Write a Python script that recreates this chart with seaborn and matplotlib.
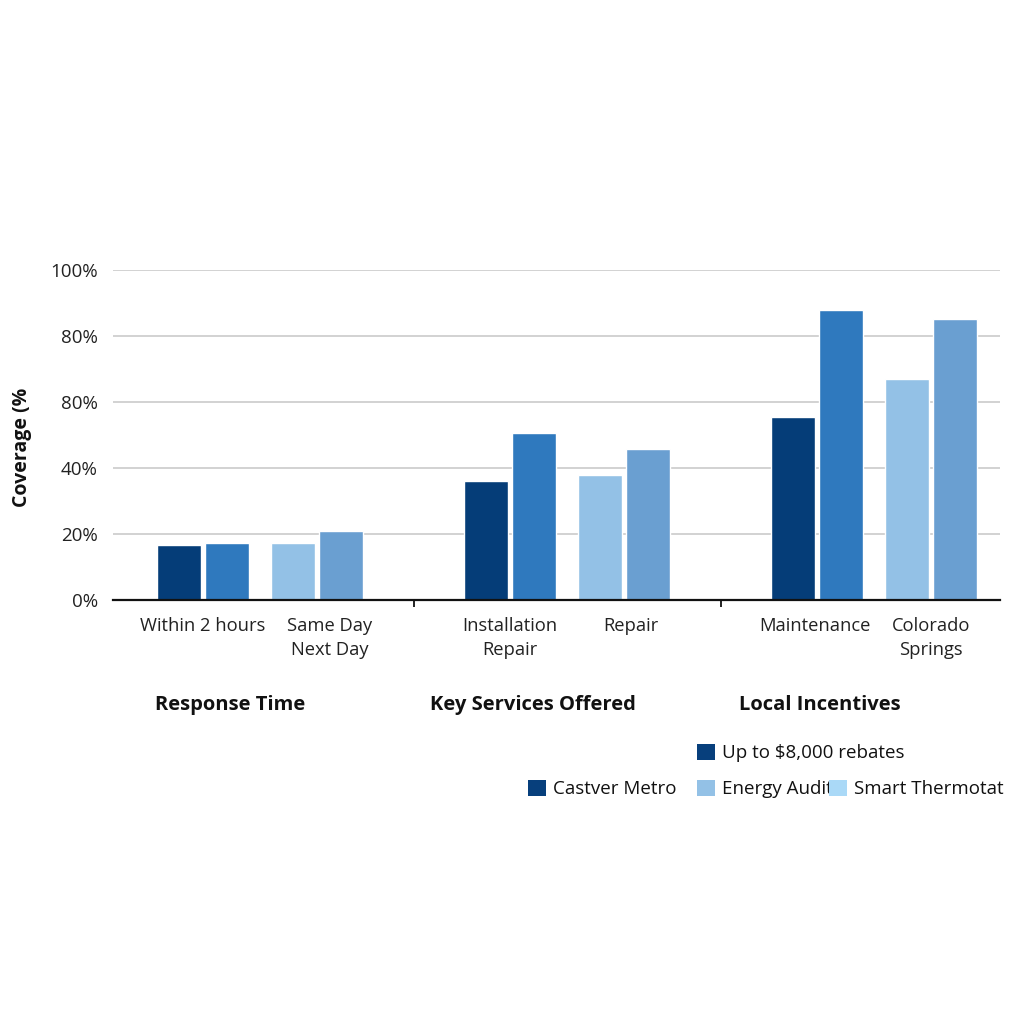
import matplotlib
matplotlib.use("Agg")
import matplotlib.pyplot as plt
from matplotlib.patches import Patch
from matplotlib.ticker import FixedLocator
import seaborn as sns
import pandas as pd

# ---- data ----
groups = ["Response Time", "Key Services Offered", "Local Incentives"]
subcats = [["Within 2 hours", "Same Day\nNext Day"],
           ["Installation\nRepair", "Repair"],
           ["Maintenance", "Colorado\nSprings"]]
series = ["Castver Metro", "Up to $8,000 rebates", "Energy Audit", "Smart Thermotat"]
dark_vals = [16.7, 36.0, 55.4]
medium_vals = [17.3, 50.5, 87.9]
light_vals = [17.3, 37.9, 66.9]
mlight_vals = [20.8, 45.7, 85.2]
ytick_vals = [0, 20, 40, 60, 80, 100]
ytick_labels = ["0%", "20%", "40%", "80%", "80%", "100%"]
legend_labels = ["Up to $8,000 rebates", "Castver Metro", "Energy Audit", "Smart Thermotat"]

colors = ["#053d78", "#2f79be", "#93c1e6", "#6a9fd1"]
legend_colors = ["#073f7c", "#073f7c", "#93c1e6", "#aad9f7"]

# ---- layout constants (units of one bar pitch) ----
GP = 307 / 48.0   # group pitch
PO = 114 / 48.0   # pair offset
label_shift = [0, 0.27, 0, 0.15, -0.05, 0]

series_vals = [dark_vals, medium_vals, light_vals, mlight_vals]
rows = []
for g in range(len(groups)):
    for s, vals in enumerate(series_vals):
        p, b = divmod(s, 2)
        rows.append({"x": g * GP + p * PO + b, "value": vals[g], "series": series[s]})
df = pd.DataFrame(rows)

sns.set_theme(style="white")
plt.rcParams["font.family"] = ["Open Sans", "DejaVu Sans"]

fig = plt.figure(figsize=(10.24, 10.24), dpi=100)
fig.patch.set_facecolor("white")
ax = fig.add_axes([113 / 1024, 1 - 600 / 1024, 887 / 1024, 330 / 1024])

sns.barplot(data=df, x="x", y="value", hue="series", hue_order=series,
            palette=colors, saturation=1, native_scale=True, dodge=False, width=44 / 48,
            errorbar=None, edgecolor="white", linewidth=1, legend=False, ax=ax)

ax.set_xlim((113 - 179) / 48, (1000 - 179) / 48)
ax.set_ylim(0, 100)
ax.set_yticks(ytick_vals)
ax.set_yticklabels(ytick_labels, fontsize=13.5, color="#222222")
ax.yaxis.grid(True, color="#cfcfcf", linewidth=1.3)
ax.set_axisbelow(True)
for sp in ["top", "right", "left"]:
    ax.spines[sp].set_visible(False)
ax.spines["bottom"].set_color("#111111")
ax.spines["bottom"].set_linewidth(1.6)
ax.tick_params(axis="y", length=0, pad=11)

pair_centers = [g * GP + p * PO + 0.5 + label_shift[2 * g + p]
                for g in range(len(groups)) for p in range(2)]
pair_labels = [lab for sub in subcats for lab in sub]
ax.set_xticks(pair_centers)
ax.set_xticklabels(pair_labels, fontsize=13.2, color="#222222", linespacing=1.45)
ax.tick_params(axis="x", which="major", length=0, pad=12)
seps = [(g * GP + PO + 1 + (g + 1) * GP) / 2 for g in range(len(groups) - 1)]
ax.xaxis.set_minor_locator(FixedLocator(seps))
ax.tick_params(axis="x", which="minor", length=5, width=1.3, color="#111111", direction="out", bottom=True)
ax.set_xlabel("")
ax.set_ylabel("")

fig.text(22 / 1024, 1 - 447 / 1024, "Coverage (%", rotation=90, ha="center", va="center",
         fontsize=14, fontweight="bold", color="#111111")

title_px = [230, 533, 820]
for t, px in zip(groups, title_px):
    fig.text(px / 1024, 1 - 705 / 1024, t, ha="center", va="center",
             fontsize=14.5, fontweight="bold", color="#111111")

# ---- legends ----
leg_pos = [(697, 753), (528, 789), (697, 789), (829, 789)]
for lab, col, (px, py) in zip(legend_labels, legend_colors, leg_pos):
    leg = fig.legend(handles=[Patch(facecolor=col, edgecolor="none")], labels=[lab],
                     loc="center left", bbox_to_anchor=(px / 1024, 1 - py / 1024),
                     frameon=False, fontsize=13.5, borderpad=0, borderaxespad=0,
                     handlelength=0.95, handleheight=0.95, handletextpad=0.4)
    for txt in leg.get_texts():
        txt.set_color("#111111")

fig.savefig("out.png", dpi=100, facecolor="white")
